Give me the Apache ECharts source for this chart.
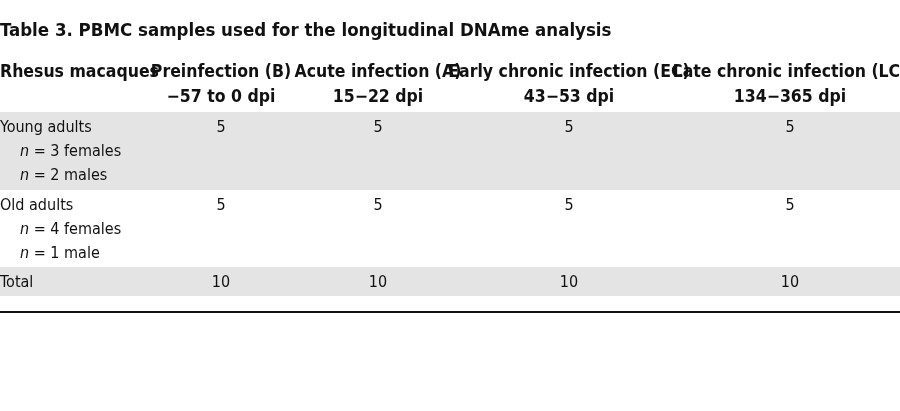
<!DOCTYPE html>
<html>
<head>
<meta charset="utf-8">
<script src="https://cdn.jsdelivr.net/npm/echarts@6/dist/echarts.min.js"></script>
<style>html,body{margin:0;background:#fff}</style>
</head>
<body>
<div id="main" style="width:900px;height:411px;"></div>
<script>
// table data
var title = 'Table 3. PBMC samples used for the longitudinal DNAme analysis';
var headers1 = ['Rhesus macaques', 'Preinfection (B)', 'Acute infection (A)', 'Early chronic infection (EC)', 'Late chronic infection (LC)'];
var headers2 = ['', '\u221257 to 0 dpi', '15\u221222 dpi', '43\u221253 dpi', '134\u2212365 dpi'];
var groups = ['Young adults', 'Old adults', 'Total'];
var groupSubs = [['3 females', '2 males'], ['4 females', '1 male'], []];
var values = [[5, 5, 5, 5], [5, 5, 5, 5], [10, 10, 10, 10]];

var font = '"Liberation Sans Narrow", "DejaVu Sans Condensed", sans-serif';
var colX = [0, 221, 378, 569, 790];
var rowTop = [112, 190, 267];
var rowH = [78, 77, 29];
var bands = ['#e4e4e4', '#ffffff', '#e4e4e4'];

var els = [];
els.push({type: 'text', x: 0, y: 31, style: {text: title, font: 'bold 18.5px ' + font, fill: '#111', verticalAlign: 'middle'}});
for (var c = 0; c < headers1.length; c++) {
    els.push({type: 'text', x: colX[c], y: 72, style: {text: headers1[c], font: 'bold 17.5px ' + font, fill: '#111',
        align: c === 0 ? 'left' : 'center', verticalAlign: 'middle'}});
    els.push({type: 'text', x: colX[c], y: 97, style: {text: headers2[c], font: 'bold 17.5px ' + font, fill: '#111',
        align: 'center', verticalAlign: 'middle'}});
}
for (var r = 0; r < groups.length; r++) {
    els.push({type: 'rect', shape: {x: 0, y: rowTop[r], width: 900, height: rowH[r]}, style: {fill: bands[r]}, z: -1});
    var y0 = rowTop[r] + 16;
    els.push({type: 'text', x: 0, y: y0, style: {text: groups[r], font: '16px ' + font, fill: '#111', verticalAlign: 'middle'}});
    for (var s = 0; s < groupSubs[r].length; s++) {
        els.push({type: 'text', x: 20, y: y0 + 24 * (s + 1), style: {
            text: '{i|n} = ' + groupSubs[r][s], font: '16px ' + font, fill: '#111', verticalAlign: 'middle',
            rich: {i: {fontStyle: 'italic', fontSize: 16, fontFamily: font, fill: '#111'}}}});
    }
    for (var c2 = 0; c2 < values[r].length; c2++) {
        els.push({type: 'text', x: colX[c2 + 1], y: y0, style: {text: String(values[r][c2]), font: '16px ' + font,
            fill: '#111', align: 'center', verticalAlign: 'middle'}});
    }
}
els.push({type: 'rect', shape: {x: 0, y: 311, width: 900, height: 2}, style: {fill: '#111'}});

var myChart = echarts.init(document.getElementById('main'));
myChart.setOption({animation: false, graphic: {elements: els}});
</script>
</body>
</html>
